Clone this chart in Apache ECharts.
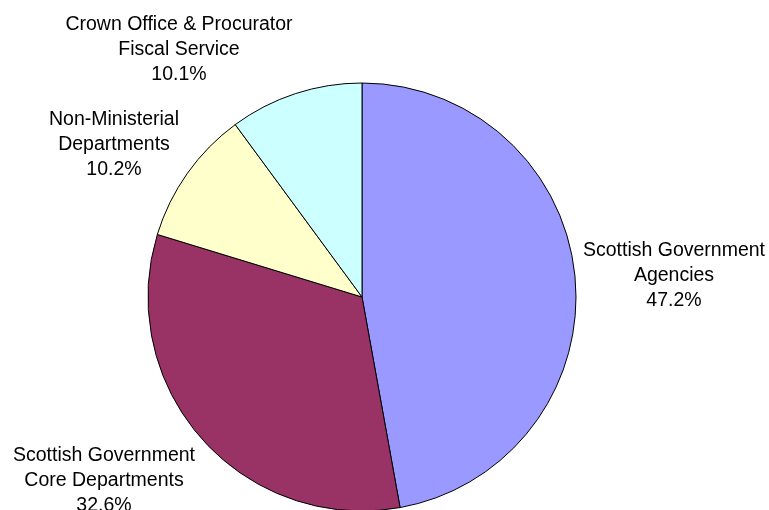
<!DOCTYPE html>
<html>
<head>
<meta charset="utf-8">
<script src="https://cdn.jsdelivr.net/npm/echarts@6/dist/echarts.min.js"></script>
<style>
  html, body { margin: 0; padding: 0; background: #fff; }
  #chart { width: 769px; height: 510px; }
</style>
</head>
<body>
<div id="chart"></div>
<script>
  // slices, clockwise from 12 o'clock
  const categories = [
    'Scottish Government\nAgencies',
    'Scottish Government\nCore Departments',
    'Non-Ministerial\nDepartments',
    'Crown Office & Procurator\nFiscal Service',
  ];
  const shares = [47.2, 32.6, 10.2, 10.1];
  const colors = ['#9999ff', '#993366', '#ffffcc', '#ccffff'];
  // where each label block sits (centre of text)
  const labelSpots = [[674, 276], [104, 481], [114, 145], [179, 50]];

  const chart = echarts.init(document.getElementById('chart'));

  chart.setOption({
    animation: false,
    series: [
      {
        type: 'pie',
        center: [362, 297],
        radius: 214,
        startAngle: 90,
        clockwise: true,
        avoidLabelOverlap: false,
        itemStyle: {
          borderColor: '#000',
          borderWidth: 1,
        },
        label: {
          show: true,
          position: 'outside',
          color: '#000',
          fontFamily: 'Liberation Sans, Arial, sans-serif',
          fontSize: 19.5,
          lineHeight: 25,
          align: 'center',
          formatter(p) {
            return p.name + '\n' + p.value.toFixed(1) + '%';
          },
        },
        labelLine: { show: false },
        labelLayout(params) {
          const spot = labelSpots[params.dataIndex];
          return {
            x: spot[0],
            y: spot[1],
            align: 'center',
            verticalAlign: 'middle',
          };
        },
        emphasis: { disabled: true },
        data: categories.map((name, i) => ({
          name,
          value: shares[i],
          itemStyle: { color: colors[i] },
        })),
      },
    ],
  });
</script>
</body>
</html>
